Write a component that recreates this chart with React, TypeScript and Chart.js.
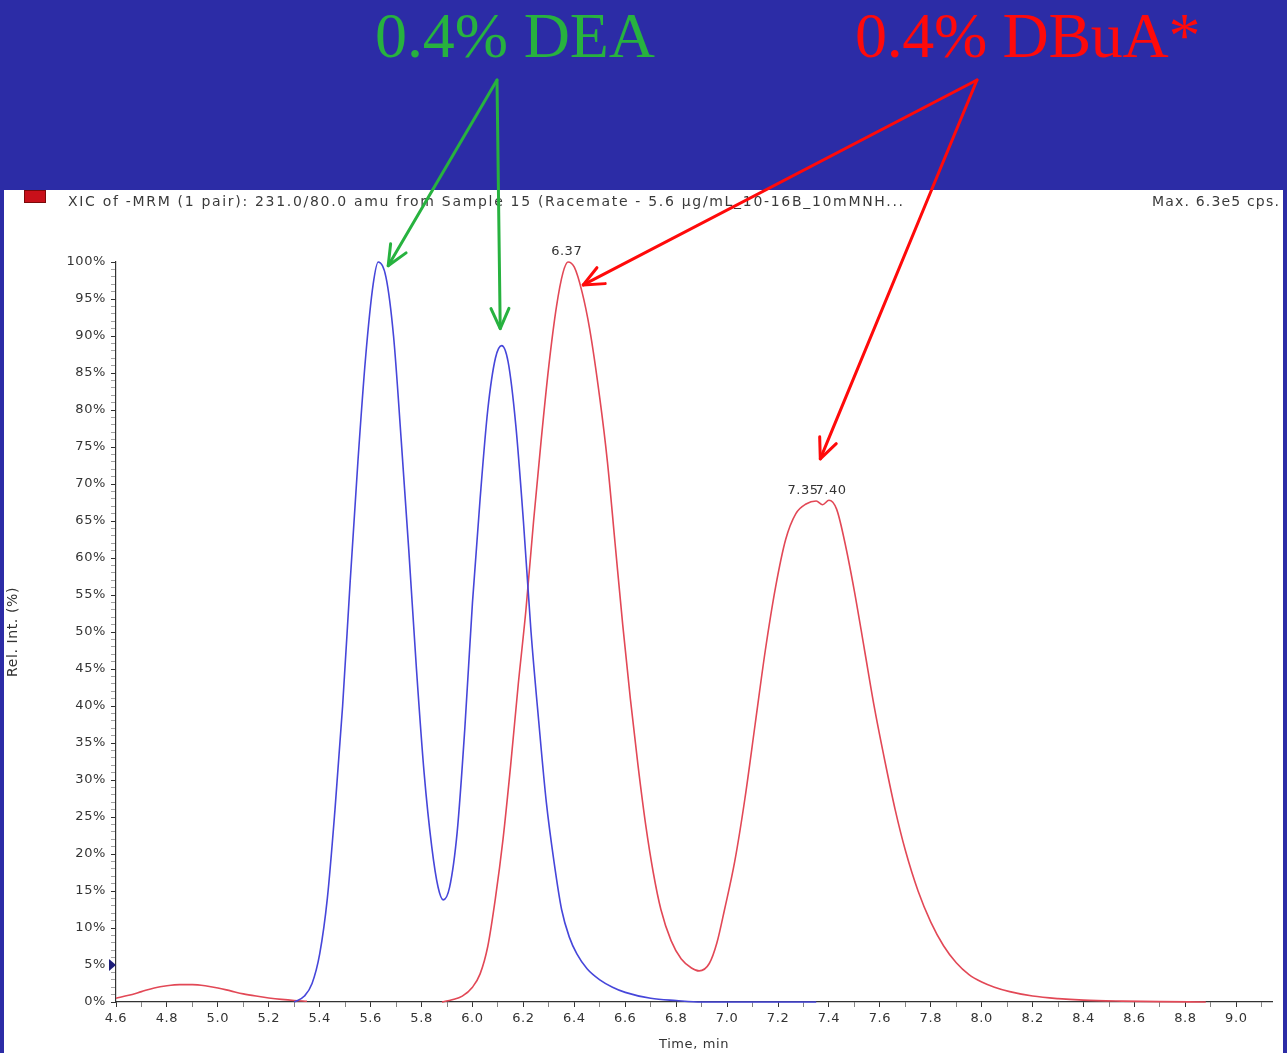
import React, { useEffect, useRef } from "react";
import { Chart, registerables } from "chart.js";

Chart.register(...registerables);

// ---- Data ----
const blueTimes = [
  5.3, 5.34, 5.37, 5.4, 5.43, 5.46, 5.49, 5.52, 5.55, 5.58, 5.61, 5.63, 5.66, 5.69, 5.72, 5.75,
  5.78, 5.81, 5.84, 5.865, 5.885, 5.91, 5.94, 5.97, 6.0, 6.03, 6.06, 6.09, 6.115, 6.14, 6.17,
  6.2, 6.23, 6.26, 6.29, 6.32, 6.35, 6.38, 6.41, 6.45, 6.5, 6.55, 6.6, 6.7, 6.8, 6.9, 7.35,
];
const blueValues = [
  0, 0.8, 2.5, 6.5, 14, 26, 40, 57, 73, 87, 97, 100, 98, 90, 76, 61,
  45, 31, 21, 15.5, 13.8, 15.5, 23, 37, 54, 68, 80, 87, 88.7, 86.5, 78,
  65, 50, 38, 27, 19, 12.5, 8.8, 6.5, 4.5, 3, 2, 1.3, 0.5, 0.2, 0, 0,
];

const redTimes = [
  4.6, 4.65, 4.7, 4.75, 4.8, 4.85, 4.9, 4.95, 5.0, 5.05, 5.1, 5.15, 5.2, 5.25, 5.3, 5.35, 5.36,
  5.88, 5.92, 5.96, 6.0, 6.03, 6.06, 6.09, 6.12, 6.15, 6.18, 6.21, 6.24, 6.27, 6.3, 6.33, 6.355,
  6.375, 6.4, 6.43, 6.46, 6.5, 6.53, 6.56, 6.59, 6.62, 6.65, 6.68, 6.71, 6.74, 6.78, 6.82, 6.86,
  6.89, 6.93, 6.96, 6.99, 7.03, 7.07, 7.11, 7.15, 7.19, 7.23, 7.27, 7.31, 7.35, 7.375, 7.4,
  7.43, 7.46, 7.5, 7.54, 7.58, 7.62, 7.66, 7.7, 7.75, 7.8, 7.85, 7.9, 7.95, 8.0, 8.05, 8.11, 8.2,
  8.3, 8.4, 8.55, 8.7, 8.88,
];
const redValues: (number | null)[] = [
  0.5, 0.9, 1.4, 1.9, 2.2, 2.35, 2.35, 2.2, 1.9, 1.5, 1.1, 0.8, 0.55, 0.35, 0.2, 0.1, null,
  0, 0.3, 0.8, 2, 3.8, 7.5, 14, 22, 32, 43, 53, 65, 76, 86, 94, 98.5,
  100, 99.3, 96, 91, 81.6, 73, 62, 51, 41, 32, 24, 17.5, 12.5, 8.3, 5.8, 4.6,
  4.2, 5.2, 8, 12.5, 19, 27.5, 37.5, 47.5, 56, 62.5, 66, 67.3, 67.7, 67.2, 67.8,
  66.6, 62.5, 55.5, 47.5, 39.5, 32.5, 26, 20.5, 15, 10.8, 7.6, 5.3, 3.7, 2.7, 2, 1.4, 0.8,
  0.45, 0.25, 0.12, 0.05, 0,
];

const xTickValues: number[] = [];
for (let i = 46; i <= 91; i++) xTickValues.push(i / 10);
const yTickValues: number[] = [];
for (let i = 0; i <= 100; i++) yTickValues.push(i);

const peakLabelTimes = [6.37, 7.35, 7.4];
const peakLabelValues = [100, 67.8, 67.8];
const peakLabelTexts = ["6.37", "7.35", "7.40"];

const headerTitle =
  "XIC of -MRM (1 pair): 231.0/80.0 amu from Sample 15 (Racemate - 5.6 µg/mL_10-16B_10mMNH...";
const headerMax = "Max. 6.3e5 cps.";
const xAxisTitle = "Time, min";
const yAxisTitle = "Rel. Int. (%)";

const deaText = "0.4% DEA";
const dbuaText = "0.4% DBuA*";
const deaArrowTimes = [5.669, 6.109];
const deaArrowValues = [99.5, 91];
const dbuaArrowTimes = [6.435, 7.366];
const dbuaArrowValues = [96.9, 73.4];

// ---- Styles ----
const BG = "#2C2CA6";
const GREEN = "#27B23F";
const RED = "#FF0A0A";
const TEXT = "#333333";
const FONT = "DejaVu Sans";

function drawSpaced(ctx: CanvasRenderingContext2D, text: string, x: number, y: number, width: number, align: string) {
  const c: any = ctx;
  c.letterSpacing = "0px";
  const w0 = ctx.measureText(text).width;
  const sp = (width - w0) / text.length;
  c.letterSpacing = sp.toFixed(2) + "px";
  const w = ctx.measureText(text).width;
  const left = align === "left" ? x : align === "right" ? x - w : x - w / 2;
  ctx.textAlign = "left";
  ctx.fillText(text, left, y);
  c.letterSpacing = "0px";
}

function drawArrow(ctx: CanvasRenderingContext2D, x0: number, y0: number, x1: number, y1: number, color: string) {
  ctx.save();
  ctx.strokeStyle = color;
  ctx.lineWidth = 3;
  ctx.lineCap = "round";
  ctx.lineJoin = "round";
  ctx.beginPath();
  ctx.moveTo(x0, y0);
  ctx.lineTo(x1, y1);
  ctx.stroke();
  const a = Math.atan2(y1 - y0, x1 - x0);
  const len = 22;
  const s = 0.42;
  ctx.beginPath();
  ctx.moveTo(x1 - len * Math.cos(a - s), y1 - len * Math.sin(a - s));
  ctx.lineTo(x1, y1);
  ctx.lineTo(x1 - len * Math.cos(a + s), y1 - len * Math.sin(a + s));
  ctx.stroke();
  ctx.restore();
}

const decorPlugin = {
  id: "decor",
  beforeDraw(chart: any) {
    const ctx: CanvasRenderingContext2D = chart.ctx;
    ctx.save();
    ctx.fillStyle = BG;
    ctx.fillRect(0, 0, chart.width, chart.height);
    ctx.fillStyle = "#ffffff";
    ctx.fillRect(4, 190, 1279, chart.height - 190);
    ctx.restore();
    (ctx as any).letterSpacing = "0.6px";
  },
  afterDraw(chart: any) {
    const ctx: CanvasRenderingContext2D = chart.ctx;
    const xs = chart.scales.x;
    const ys = chart.scales.y;
    ctx.save();
    (ctx as any).letterSpacing = "0px";

    // legend square + header texts
    ctx.fillStyle = "#C8101A";
    ctx.fillRect(24, 190, 22, 13);
    ctx.strokeStyle = "#7a0a0a";
    ctx.lineWidth = 1;
    ctx.strokeRect(24.5, 190.5, 21, 12);

    ctx.fillStyle = "#3a3a3a";
    ctx.font = `14px "${FONT}"`;
    ctx.textBaseline = "middle";
    drawSpaced(ctx, headerTitle, 68, 202, 837, "left");
    drawSpaced(ctx, headerMax, 1280, 202, 128, "right");

    // peak labels
    ctx.fillStyle = TEXT;
    ctx.font = `13px "${FONT}"`;
    (ctx as any).letterSpacing = "0.5px";
    ctx.textAlign = "center";
    ctx.textBaseline = "middle";
    const px0 = xs.getPixelForValue(peakLabelTimes[0]);
    ctx.fillText(peakLabelTexts[0], px0, ys.getPixelForValue(peakLabelValues[0]) - 10);
    const px2 = xs.getPixelForValue(peakLabelTimes[2]) + 2;
    const py2 = ys.getPixelForValue(peakLabelValues[2]) - 10;
    ctx.fillText(peakLabelTexts[2], px2, py2);
    const w2 = ctx.measureText(peakLabelTexts[2]).width;
    ctx.textAlign = "right";
    ctx.fillText(peakLabelTexts[1], px2 - w2 / 2 + 3, ys.getPixelForValue(peakLabelValues[1]) - 10);
    (ctx as any).letterSpacing = "0px";

    // 5% marker
    const y5 = ys.getPixelForValue(5);
    ctx.fillStyle = "#1E1E7A";
    ctx.beginPath();
    ctx.moveTo(109, y5 - 6);
    ctx.lineTo(109, y5 + 6);
    ctx.lineTo(116, y5);
    ctx.closePath();
    ctx.fill();

    // big annotation texts
    ctx.font = `64px "Liberation Serif"`;
    ctx.textBaseline = "alphabetic";
    ctx.fillStyle = GREEN;
    drawSpaced(ctx, deaText, 375, 57, 280, "left");
    ctx.fillStyle = RED;
    drawSpaced(ctx, dbuaText, 855, 57, 345, "left");

    // arrows
    for (let i = 0; i < deaArrowTimes.length; i++) {
      drawArrow(ctx, 497, 80, xs.getPixelForValue(deaArrowTimes[i]), ys.getPixelForValue(deaArrowValues[i]), GREEN);
    }
    for (let i = 0; i < dbuaArrowTimes.length; i++) {
      drawArrow(ctx, 977, 80, xs.getPixelForValue(dbuaArrowTimes[i]), ys.getPixelForValue(dbuaArrowValues[i]), RED);
    }
    ctx.restore();
  },
};

export default function App() {
  const ref = useRef<HTMLCanvasElement | null>(null);

  useEffect(() => {
    document.body.style.margin = "0";
    const canvas = ref.current;
    if (!canvas) return;
    const chart = new Chart(canvas, {
      type: "line",
      data: {
        datasets: [
          {
            label: "DEA",
            data: blueTimes.map((t, i) => ({ x: t, y: blueValues[i] })),
            borderColor: "rgb(70,70,218)",
            borderWidth: 1.6,
            pointRadius: 0,
            cubicInterpolationMode: "monotone",
            spanGaps: false,
            clip: false,
            order: 1,
          } as any,
          {
            label: "DBuA",
            data: redTimes.map((t, i) => ({ x: t, y: redValues[i] })),
            borderColor: "rgb(226,72,86)",
            borderWidth: 1.6,
            pointRadius: 0,
            cubicInterpolationMode: "monotone",
            spanGaps: false,
            clip: false,
            order: 2,
          } as any,
        ],
      },
      options: {
        responsive: false,
        devicePixelRatio: 1,
        animation: false,
        layout: { padding: { top: 262, left: 4, right: 15, bottom: 0 } },
        plugins: { legend: { display: false }, tooltip: { enabled: false } },
        scales: {
          x: {
            type: "linear",
            min: 4.6,
            max: 9.14,
            afterBuildTicks: (s: any) => {
              s.ticks = xTickValues.map((v) => ({ value: v }));
            },
            afterFit: (s: any) => {
              s.height = 51;
            },
            ticks: {
              autoSkip: false,
              maxRotation: 0,
              minRotation: 0,
              padding: 4,
              color: TEXT,
              font: { family: FONT, size: 13 },
              callback: (v: any) => {
                const k = Math.round(Number(v) * 10);
                return k % 2 === 0 ? (k / 10).toFixed(1) : "";
              },
            },
            grid: {
              display: true,
              drawOnChartArea: false,
              drawTicks: true,
              tickLength: 5,
              tickColor: (c: any) => {
                const k = Math.round(Number(c.tick ? c.tick.value : 0) * 10);
                return k % 2 === 0 ? "#333" : "rgba(50,50,50,0.6)";
              },
            },
            border: { display: true, color: "#333", width: 1.2 },
            title: {
              display: true,
              text: xAxisTitle,
              color: TEXT,
              font: { family: FONT, size: 13 },
              padding: 1,
            },
          },
          y: {
            type: "linear",
            min: 0,
            max: 100,
            afterBuildTicks: (s: any) => {
              s.ticks = yTickValues.map((v) => ({ value: v }));
            },
            afterFit: (s: any) => {
              s.width = 112;
            },
            ticks: {
              autoSkip: false,
              padding: 5,
              color: TEXT,
              font: { family: FONT, size: 13 },
              callback: (v: any) => (Math.round(Number(v)) % 5 === 0 ? `${Math.round(Number(v))}%` : ""),
            },
            grid: {
              display: true,
              drawOnChartArea: false,
              drawTicks: true,
              tickLength: 5,
              tickColor: (c: any) =>
                c.tick && Math.round(c.tick.value) % 5 === 0 ? "#333" : "rgba(50,50,50,0.45)",
            },
            border: { display: true, color: "#333", width: 1.2 },
            title: {
              display: true,
              text: yAxisTitle,
              color: TEXT,
              font: { family: FONT, size: 14 },
              padding: 1,
            },
          },
        },
      } as any,
      plugins: [decorPlugin as any],
    });
    return () => chart.destroy();
  }, []);

  return (
    <div style={{ position: "fixed", left: 0, top: 0, width: 1287, height: 1053, background: BG }}>
      <canvas ref={ref} width={1287} height={1053} style={{ display: "block", width: 1287, height: 1053 }} />
    </div>
  );
}
